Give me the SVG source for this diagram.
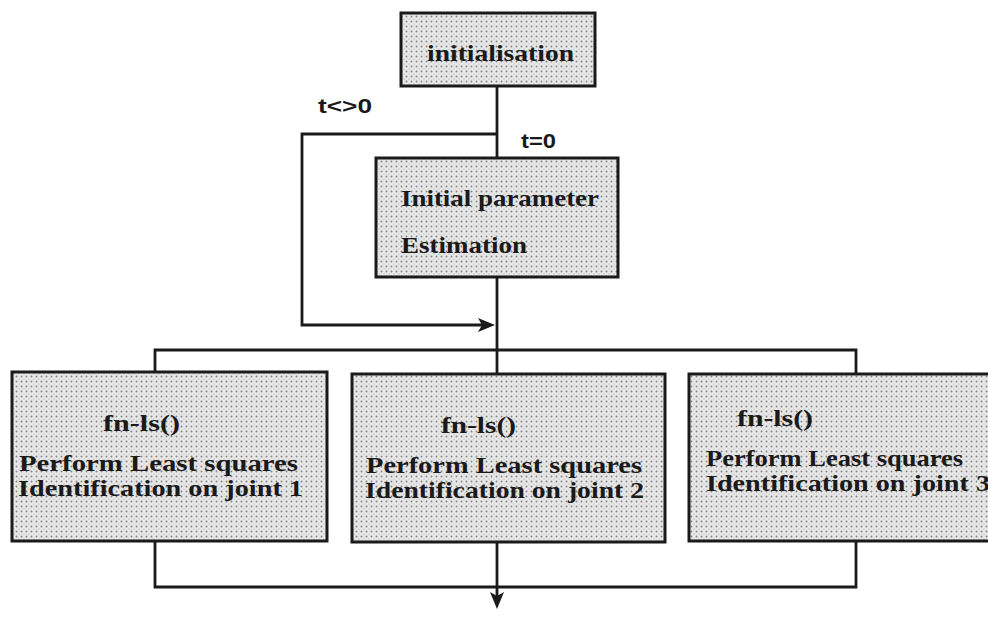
<svg xmlns="http://www.w3.org/2000/svg" width="988" height="634" viewBox="0 0 988 634">
  <style>
    .box { fill: url(#stipple); stroke: #1a1a1a; stroke-width: 3; }
    .wire { fill: none; stroke: #1a1a1a; stroke-width: 2.8; }
    .lbl { font-family: "Liberation Serif", "DejaVu Serif", serif; font-weight: bold; font-size: 23px; fill: #1a1a1a; }
    .cond { font-family: "Liberation Sans", Arial, sans-serif; font-weight: bold; font-size: 20px; fill: #1a1a1a; }
  </style>
  <defs>
    <!-- dotted halftone fill used for every process box -->
    <pattern id="stipple" width="5" height="5" patternUnits="userSpaceOnUse">
      <rect width="5" height="5" fill="#e8e8e8"/>
      <circle cx="1.5" cy="1.5" r="0.95" fill="#858585"/>
      <circle cx="4" cy="4" r="0.6" fill="#aaaaaa"/>
    </pattern>
    <!-- filled arrowhead, drawn pointing along +x -->
    <path id="head" d="M0,0 L-17,-7 L-13,0 L-17,7 Z" fill="#1a1a1a"/>
  </defs>

  <rect width="988" height="634" fill="#ffffff"/>

  <g id="connectors">
    <!-- main spine from initialisation to parameter estimation -->
    <line class="wire" x1="497" y1="86" x2="497" y2="158"/>
    <!-- t<>0 bypass loop -->
    <polyline class="wire" points="497,134 302,134 302,325 482,325"/>
    <use href="#head" transform="translate(495,325)"/>
    <!-- estimation down to the split -->
    <line class="wire" x1="497" y1="277" x2="497" y2="373"/>
    <!-- fan-out to the three joints -->
    <polyline class="wire" points="155,372 155,350 856,350 856,374"/>
    <!-- fan-in from the three joints -->
    <polyline class="wire" points="155,541 155,587 856,587 856,541"/>
    <line class="wire" x1="497" y1="542" x2="497" y2="596"/>
    <use href="#head" transform="translate(497,609) rotate(90)"/>
    <text class="cond" x="318" y="113" textLength="54" lengthAdjust="spacingAndGlyphs">t&lt;&gt;0</text>
    <text class="cond" x="521" y="148" textLength="35" lengthAdjust="spacingAndGlyphs">t=0</text>
  </g>

  <g id="init">
    <rect class="box" x="401" y="13" width="194" height="73"/>
    <text class="lbl" x="427" y="61" textLength="147" lengthAdjust="spacingAndGlyphs">initialisation</text>
  </g>

  <g id="estimation">
    <rect class="box" x="376" y="158" width="242" height="119"/>
    <text class="lbl" x="401" y="206" textLength="198" lengthAdjust="spacingAndGlyphs">Initial parameter</text>
    <text class="lbl" x="401" y="253" textLength="126" lengthAdjust="spacingAndGlyphs">Estimation</text>
  </g>

  <g id="joint1">
    <rect class="box" x="12" y="372" width="315" height="169"/>
    <text class="lbl" x="103" y="431" textLength="77" lengthAdjust="spacingAndGlyphs">fn-ls()</text>
    <text class="lbl" x="19" y="471" textLength="279" lengthAdjust="spacingAndGlyphs">Perform Least squares</text>
    <text class="lbl" x="18" y="496" textLength="285" lengthAdjust="spacingAndGlyphs">Identification on joint 1</text>
  </g>

  <g id="joint2">
    <rect class="box" x="352" y="374" width="313" height="168"/>
    <text class="lbl" x="441" y="433" textLength="75" lengthAdjust="spacingAndGlyphs">fn-ls()</text>
    <text class="lbl" x="366" y="473" textLength="276" lengthAdjust="spacingAndGlyphs">Perform Least squares</text>
    <text class="lbl" x="365" y="498" textLength="279" lengthAdjust="spacingAndGlyphs">Identification on joint 2</text>
  </g>

  <g id="joint3">
    <rect class="box" x="689" y="374" width="310" height="167"/>
    <text class="lbl" x="737" y="426" textLength="76" lengthAdjust="spacingAndGlyphs">fn-ls()</text>
    <text class="lbl" x="706" y="466" textLength="257" lengthAdjust="spacingAndGlyphs">Perform Least squares</text>
    <text class="lbl" x="706" y="491" textLength="284" lengthAdjust="spacingAndGlyphs">Identification on joint 3</text>
  </g>
</svg>
